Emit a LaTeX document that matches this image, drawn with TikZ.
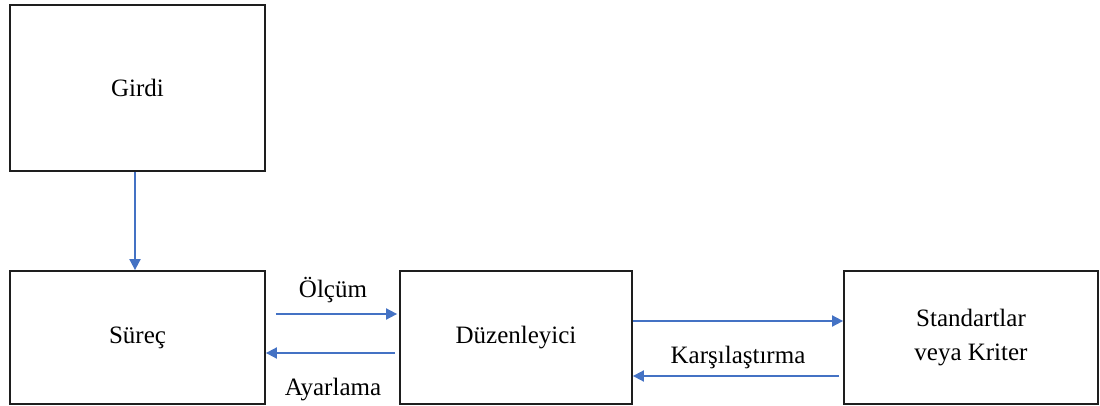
\documentclass[tikz,border=0pt]{standalone}
\usepackage{fontspec}
\setmainfont{Liberation Serif}
\usetikzlibrary{arrows.meta}
\definecolor{flow}{HTML}{4472C4}
\definecolor{frame}{HTML}{1E1E1E}
\tikzset{
  block/.style={draw=frame, line width=1.8pt, rectangle, inner sep=0pt, align=center,
                font=\fontsize{25}{34}\selectfont},
  flowarrow/.style={draw=flow, line width=1.8pt, -{Triangle[length=11pt,width=11pt]}},
  lbl/.style={font=\fontsize{25}{28}\selectfont, inner sep=0pt}
}
\begin{document}
\begin{tikzpicture}[x=1pt, y=-1pt]
  \useasboundingbox (0,0) rectangle (1100,406);

  % boxes
  \node[block, minimum width=255pt, minimum height=166pt] (gir) at (137.5,88) {Girdi};
  \node[block, minimum width=255pt, minimum height=133pt] (sur) at (137.5,337.5) {Süreç};
  \node[block, minimum width=232pt, minimum height=133pt] (duz) at (516,337.5) {Düzenleyici};
  \node[block, minimum width=254pt, minimum height=133pt] (std) at (971,337.5) {Standartlar\\veya Kriter};

  % connectors
  \draw[flowarrow] ([xshift=-2.5pt]gir.south) -- ([xshift=-2.5pt]sur.north);
  \draw[flowarrow] ([shift={(10,-23.5)}]sur.east) -- ([shift={(-2,-23.5)}]duz.west);
  \draw[flowarrow] ([shift={(-4,15.5)}]duz.west) -- ([shift={(0,15.5)}]sur.east);
  \draw[flowarrow] ([shift={(0,-16.5)}]duz.east) -- ([shift={(0,-16.5)}]std.west);
  \draw[flowarrow] ([shift={(-4,38.5)}]std.west) -- ([shift={(0,38.5)}]duz.east);

  % labels
  \node[lbl] (olcum) at (333,290) {Ölçüm};
  \node[lbl] (ayar) at (333,390) {Ayarlama};
  \node[lbl] (kars) at (738,357) {Karşılaştırma};
\end{tikzpicture}
\end{document}
